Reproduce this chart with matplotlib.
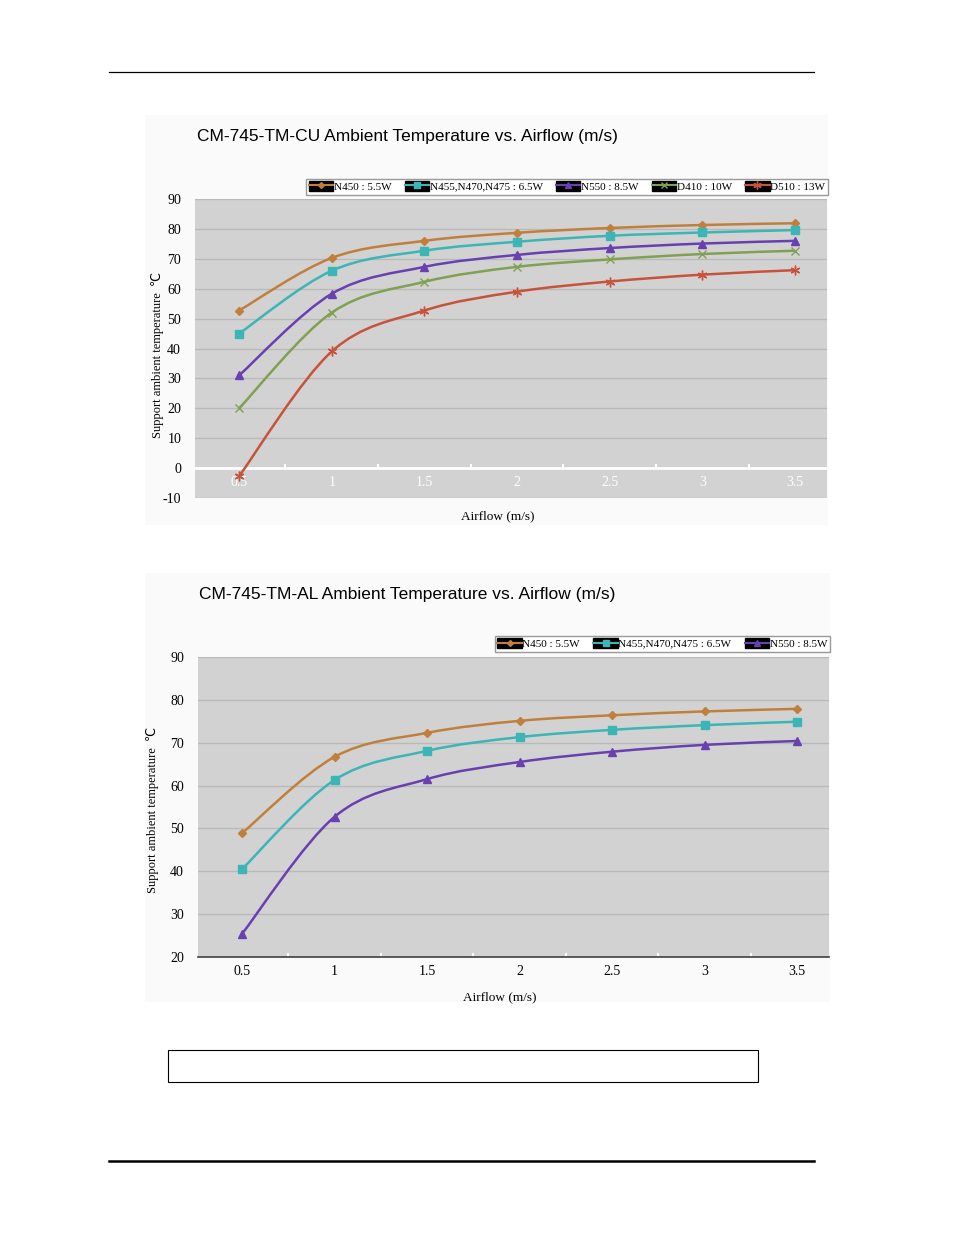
import matplotlib
matplotlib.use("Agg")
import matplotlib.pyplot as plt
from matplotlib.path import Path
from matplotlib.patches import PathPatch, Patch, Rectangle
from matplotlib.lines import Line2D
from matplotlib.legend_handler import HandlerTuple

plt.rcParams["axes.unicode_minus"] = False

# data
airflow = [0.5, 1, 1.5, 2, 2.5, 3, 3.5]

cu_n450 = [52.7, 70.3, 76.0, 78.7, 80.3, 81.3, 81.9]
cu_n455 = [45.0, 66.0, 72.7, 75.7, 77.7, 78.8, 79.6]
cu_n550 = [31.0, 58.3, 67.3, 71.3, 73.6, 75.1, 76.0]
cu_d410 = [20.0, 52.0, 62.3, 67.3, 69.8, 71.6, 72.7]
cu_d510 = [-2.7, 39.0, 52.7, 59.0, 62.4, 64.7, 66.2]

al_n450 = [48.9, 66.7, 72.3, 75.1, 76.4, 77.3, 77.9]
al_n455 = [40.5, 61.3, 68.1, 71.3, 73.0, 74.1, 74.9]
al_n550 = [25.4, 52.7, 61.5, 65.5, 67.9, 69.5, 70.4]

cu_labels = ["N450 : 5.5W", "N455,N470,N475 : 6.5W", "N550 : 8.5W", "D410 : 10W", "D510 : 13W"]
al_labels = ["N450 : 5.5W", "N455,N470,N475 : 6.5W", "N550 : 8.5W"]
xtick_labels = ["0.5", "1", "1.5", "2", "2.5", "3", "3.5"]

colors = ["#c0803c", "#3bb5b5", "#6840b0", "#80a052", "#c8523a"]
markers = ["D", "s", "^", "x", (6, 2, 0)]
msizes = [4, 6, 6, 6, 7]

SERIF = "Liberation Serif"
SANS = "Liberation Sans"
BG = "#d2d2d2"
GRID = "#b9b9b9"


def smooth_path(xs, ys):
    # excel-like smoothed line as cubic bezier segments
    n = len(xs)
    verts = [(xs[0], ys[0])]
    codes = [Path.MOVETO]
    for i in range(n - 1):
        x0, y0 = xs[max(i - 1, 0)], ys[max(i - 1, 0)]
        x1, y1 = xs[i], ys[i]
        x2, y2 = xs[i + 1], ys[i + 1]
        x3, y3 = xs[min(i + 2, n - 1)], ys[min(i + 2, n - 1)]
        c1 = (x1 + (x2 - x0) / 6, y1 + (y2 - y0) / 6)
        c2 = (x2 - (x3 - x1) / 6, y2 - (y3 - y1) / 6)
        verts += [c1, c2, (x2, y2)]
        codes += [Path.CURVE4] * 3
    return Path(verts, codes)


def draw_series(ax, ys, k):
    ax.add_patch(PathPatch(smooth_path(airflow, ys), fill=False,
                           edgecolor=colors[k], lw=1.8, zorder=3))
    filled = k < 3
    ax.plot(airflow, ys, ls="none", marker=markers[k], ms=msizes[k],
            color=colors[k], mfc=colors[k] if filled else "none",
            mew=1.0, zorder=4)


def legend_handles(n):
    hs = []
    for k in range(n):
        box = Patch(facecolor="black", edgecolor="black")
        ln = Line2D([], [], color=colors[k], lw=1.5, marker=markers[k],
                    ms=msizes[k] - 1, mfc=colors[k] if k < 3 else "none")
        hs.append((box, ln))
    return hs


def style_axes(ax, ymin, ymax, zero_axis):
    ax.set_facecolor(BG)
    for s in ["top", "right", "left"]:
        ax.spines[s].set_visible(False)
    if zero_axis:
        ax.spines["bottom"].set_position(("data", 0))
        ax.spines["bottom"].set_color("white")
        ax.spines["bottom"].set_linewidth(2)
    else:
        ax.spines["bottom"].set_color("#404040")
        ax.spines["bottom"].set_linewidth(1.2)
    ax.set_xlim(0.262, 3.673)
    ax.set_ylim(ymin, ymax)
    ax.set_yticks(range(ymin, ymax + 1, 10))
    ax.set_yticklabels([str(v) for v in range(ymin, ymax + 1, 10)],
                       fontfamily=SERIF, fontsize=10)
    ax.yaxis.grid(True, color=GRID, lw=1)
    ax.set_axisbelow(True)
    ax.tick_params(axis="y", length=0, pad=10)
    ax.set_xticks(airflow)
    ax.set_xticklabels(xtick_labels, fontfamily=SERIF, fontsize=10)
    ax.set_xticks([0.75, 1.25, 1.75, 2.25, 2.75, 3.25], minor=True)
    ax.tick_params(axis="x", which="major", length=0, pad=6)
    ax.tick_params(axis="x", which="minor", direction="in", length=3,
                   color="white", width=1.5)
    if zero_axis:
        ax.tick_params(axis="x", which="major", labelcolor="white")


fig = plt.figure(figsize=(9.54, 12.35), dpi=100)
W, H = 954, 1235


def fx(px):
    return px / W


def fy(py):
    return 1 - py / H


# page rules and empty caption box
fig.add_artist(Line2D([fx(109), fx(814)], [fy(72), fy(72)], color="black", lw=0.9))
fig.add_artist(Line2D([fx(109), fx(814)], [fy(1161), fy(1161)], color="black", lw=1.8))
fig.add_artist(Rectangle((fx(168), fy(1082)), fx(758) - fx(168), fy(1050) - fy(1082),
                         fill=False, edgecolor="black", lw=0.8))

# chart panels
fig.add_artist(Rectangle((fx(145), fy(525)), fx(828) - fx(145), fy(115) - fy(525),
                         facecolor="#fafafa", edgecolor="none", zorder=0))
fig.add_artist(Rectangle((fx(145), fy(1002)), fx(830) - fx(145), fy(573) - fy(1002),
                         facecolor="#fafafa", edgecolor="none", zorder=0))

leg_kw = dict(handler_map={tuple: HandlerTuple(ndivide=1, pad=0)},
              prop={"family": SERIF, "size": 8}, frameon=True, fancybox=False,
              edgecolor="#999999", handlelength=2.2, handleheight=0.9,
              handletextpad=0.05, columnspacing=1.2, borderpad=0.25, borderaxespad=0,
              framealpha=1)

# ---- top chart: CU
ax1 = fig.add_axes([fx(195), fy(498), fx(827) - fx(195), fy(199) - fy(498)])
style_axes(ax1, -10, 90, zero_axis=True)
for k, ys in enumerate([cu_n450, cu_n455, cu_n550, cu_d410, cu_d510]):
    draw_series(ax1, ys, k)
fig.text(fx(197), fy(136), "CM-745-TM-CU Ambient Temperature vs. Airflow (m/s)",
         fontfamily=SANS, fontsize=12.5, va="center", ha="left")
fig.text(fx(158), fy(355), "Support ambient temperature  \u2103", rotation=90,
         fontfamily=[SERIF, "DejaVu Sans"], fontsize=9, ha="center", va="center")
fig.text(fx(498), fy(516), "Airflow (m/s)", fontfamily=SERIF, fontsize=9.5,
         ha="center", va="center")
fig.legend(legend_handles(5), cu_labels, loc="center right",
           bbox_to_anchor=(fx(828), fy(186.5)), ncol=5, **leg_kw)

# ---- bottom chart: AL
ax2 = fig.add_axes([fx(198), fy(957), fx(829) - fx(198), fy(657) - fy(957)])
style_axes(ax2, 20, 90, zero_axis=False)
for k, ys in enumerate([al_n450, al_n455, al_n550]):
    draw_series(ax2, ys, k)
fig.text(fx(199), fy(594), "CM-745-TM-AL Ambient Temperature vs. Airflow (m/s)",
         fontfamily=SANS, fontsize=12.5, va="center", ha="left")
fig.text(fx(153), fy(810), "Support ambient temperature  \u2103", rotation=90,
         fontfamily=[SERIF, "DejaVu Sans"], fontsize=9, ha="center", va="center")
fig.text(fx(500), fy(997), "Airflow (m/s)", fontfamily=SERIF, fontsize=9.5,
         ha="center", va="center")
fig.legend(legend_handles(3), al_labels, loc="center right",
           bbox_to_anchor=(fx(830), fy(643.5)), ncol=3, **leg_kw)

fig.savefig("out.png", dpi=100)
